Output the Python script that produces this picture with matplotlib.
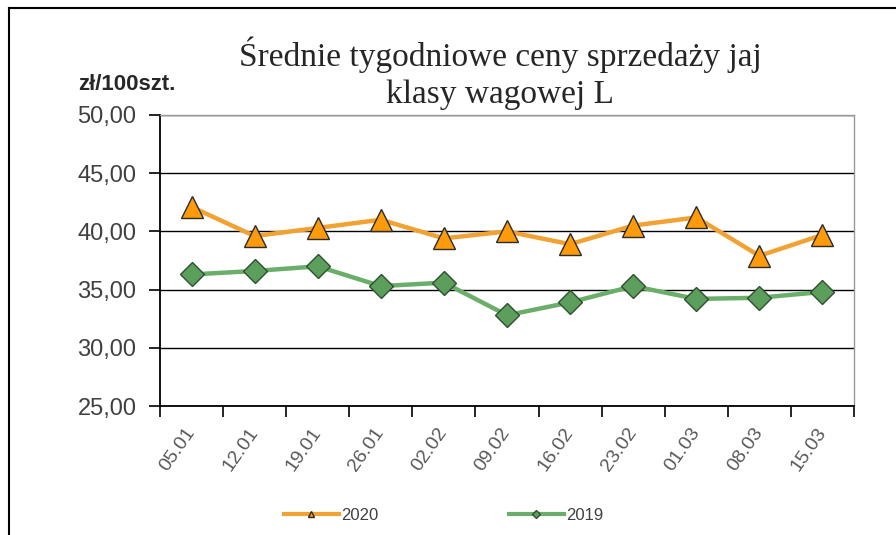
import numpy as np
import matplotlib
matplotlib.use('Agg')
import matplotlib.pyplot as plt
from matplotlib.lines import Line2D

# data
weeks = ['05.01', '12.01', '19.01', '26.01', '02.02', '09.02',
         '16.02', '23.02', '01.03', '08.03', '15.03']
prices_2020 = [42.1, 39.6, 40.3, 41.0, 39.4, 40.0, 38.9, 40.5, 41.2, 37.9, 39.7]
prices_2019 = [36.3, 36.6, 37.0, 35.3, 35.6, 32.8, 33.9, 35.3, 34.2, 34.3, 34.8]
y_ticks = [25, 30, 35, 40, 45, 50]

plt.rcParams['font.family'] = ['Liberation Sans', 'DejaVu Sans']

fig = plt.figure(figsize=(8.96, 5.35), dpi=100)
ax = fig.add_axes([160 / 896, 1 - 406 / 535, 694 / 896, 291 / 535])

x = np.arange(len(weeks))
ax.plot(x, prices_2020, color='#F2A233', lw=3.2, marker='^', ms=16,
        mfc='#FF9A0A', mec='#2b2b2b', mew=1.0, label='2020', zorder=3)
ax.plot(x, prices_2019, color='#6AAE6A', lw=3.2, marker='D', ms=12,
        mfc='#5C9E5C', mec='#2f4f2f', mew=1.0, label='2019', zorder=3)

ax.set_xlim(-0.5, len(weeks) - 0.5)
ax.set_ylim(25, 50)
ax.set_yticks(y_ticks)
ax.set_yticklabels([f'{v:.2f}'.replace('.', ',') for v in y_ticks],
                   fontsize=17, color='#404040')
ax.yaxis.grid(True, color='black', lw=1.0)
ax.set_axisbelow(True)

# category boundaries get tick marks, centers get labels
ax.set_xticks(np.arange(-0.5, len(weeks), 1.0))
ax.set_xticklabels([])
ax.set_xticks(x, minor=True)
ax.set_xticklabels(weeks, minor=True, rotation=55, ha='right', va='center',
                   rotation_mode='anchor', fontsize=14, color='#595959')
ax.tick_params(axis='x', which='minor', length=0, pad=17)
ax.tick_params(axis='x', which='major', length=8, width=1.2, direction='out')
ax.tick_params(axis='y', length=8, width=1.2, direction='out', pad=9)

for side in ['left', 'bottom']:
    ax.spines[side].set_color('black')
    ax.spines[side].set_linewidth(1.3)
for side in ['top', 'right']:
    ax.spines[side].set_color('#9a9a9a')
    ax.spines[side].set_linewidth(1.0)

# title and unit label
fig.text(0.558, 1 - 55 / 535, 'Średnie tygodniowe ceny sprzedaży jaj',
         ha='center', va='center', fontsize=24, family='Liberation Serif',
         color='#262626')
fig.text(0.558, 1 - 95 / 535, 'klasy wagowej L',
         ha='center', va='center', fontsize=24, family='Liberation Serif',
         color='#262626')
fig.text(78 / 896, 1 - 85 / 535, 'zł/100szt.', ha='left', va='center',
         fontsize=16, fontweight='bold', color='#262626')

# legend at the bottom
h1 = Line2D([], [], color='#F2A233', lw=3.0, marker='^', ms=5,
            mfc='#FF9A0A', mec='#2b2b2b')
h2 = Line2D([], [], color='#6AAE6A', lw=3.0, marker='D', ms=4,
            mfc='#5C9E5C', mec='#2f4f2f')
fig.legend([h1, h2], ['2020', '2019'], loc='center',
           bbox_to_anchor=(0.495, 1 - 515 / 535), ncol=2, frameon=False,
           fontsize=12, handlelength=3.3, handletextpad=0.15,
           columnspacing=7.8, labelcolor='#404040')

# outer frame (top and left edges visible)
fig.add_artist(Line2D([9 / 896, 9 / 896], [0, 1 - 8 / 535],
                      transform=fig.transFigure, color='black', lw=1.5))
fig.add_artist(Line2D([9 / 896, 1], [1 - 8 / 535, 1 - 8 / 535],
                      transform=fig.transFigure, color='black', lw=1.5))

fig.savefig('out.png', dpi=100)
